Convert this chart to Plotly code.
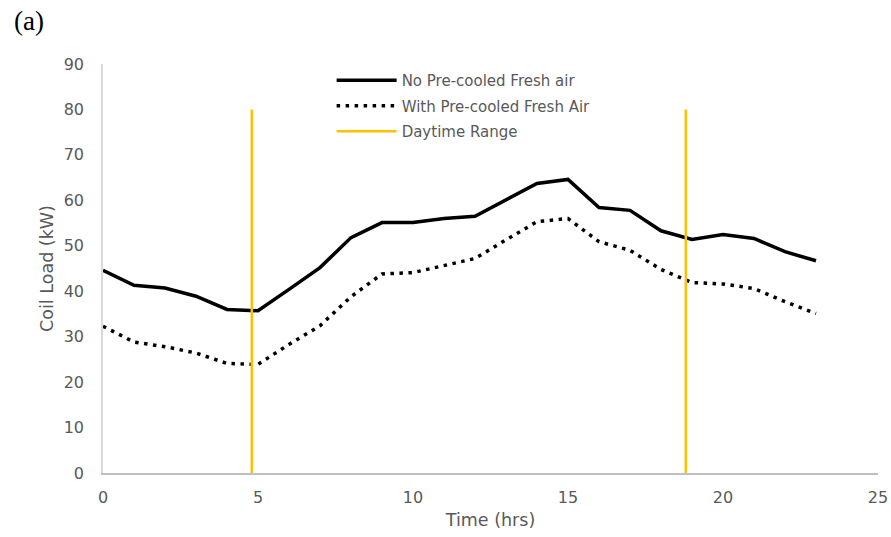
import plotly.graph_objects as go

hours = list(range(24))
no_precool = [44.6, 41.3, 40.7, 38.9, 36.0, 35.7, 40.4, 45.2, 51.8, 55.1, 55.1, 56.0,
              56.5, 60.2, 63.7, 64.6, 58.4, 57.8, 53.3, 51.4, 52.5, 51.6, 48.7, 46.7]
with_precool = [32.3, 28.8, 27.8, 26.4, 24.1, 23.9, 28.3, 32.4, 38.8, 43.8, 44.1, 45.7,
                47.2, 51.3, 55.3, 56.0, 50.9, 49.0, 44.8, 41.9, 41.6, 40.6, 37.7, 35.1]
daytime_x = [4.8, 4.8, None, 18.8, 18.8]
daytime_y = [0, 80, None, 0, 80]

font_family = "DejaVu Sans, sans-serif"
grey = "#595959"

fig = go.Figure()
fig.add_trace(go.Scatter(x=hours, y=no_precool, mode="lines", name="No Pre-cooled Fresh air",
                         legendgroup="a", line=dict(color="black", width=3.5)))
fig.add_trace(go.Scatter(x=hours, y=with_precool, mode="lines", name="With Pre-cooled Fresh Air",
                         legendgroup="b", line=dict(color="black", width=3.5, dash="3.5px,5.5px")))
fig.add_trace(go.Scatter(x=daytime_x, y=daytime_y, mode="lines", name="Daytime Range",
                         legendgroup="c", line=dict(color="#FFC000", width=2.5)))

fig.update_layout(
    width=891, height=537,
    margin=dict(l=103, r=13, t=64, b=64, autoexpand=False),
    paper_bgcolor="white", plot_bgcolor="white",
    font=dict(family=font_family, size=15, color=grey),
    showlegend=True,
    legend=dict(x=0.295, y=1.0, xanchor="left", yanchor="top", bgcolor="rgba(0,0,0,0)",
                font=dict(size=15, color=grey), tracegroupgap=3, itemwidth=60),
    xaxis=dict(range=[0, 25], tickvals=[0, 5, 10, 15, 20, 25], showgrid=False, zeroline=False,
               showline=True, linecolor="#bfbfbf", linewidth=1.5,
               ticks="outside", ticklen=9, tickcolor="rgba(0,0,0,0)", automargin=False,
               title=dict(text="Time (hrs)", font=dict(size=17.5, color=grey), standoff=8),
               tickfont=dict(size=16, color=grey)),
    yaxis=dict(range=[0, 90], tickvals=list(range(0, 91, 10)), showgrid=False, zeroline=False,
               showline=True, linecolor="#d9d9d9", linewidth=1.5,
               ticks="outside", ticklen=14, tickcolor="rgba(0,0,0,0)", automargin=False,
               title=dict(text="Coil Load (kW)", font=dict(size=17.5, color=grey), standoff=6),
               tickfont=dict(size=16, color=grey)),
    annotations=[dict(text="(a)", xref="paper", yref="paper", x=-0.1174, y=1.1467,
                      xanchor="left", yanchor="top", showarrow=False,
                      font=dict(family="Liberation Serif, Times New Roman, serif", size=27, color="black"))],
)

fig.write_html("out.html", config={"displayModeBar": False},
               post_script="document.body.style.margin='0';document.body.style.padding='0';")
